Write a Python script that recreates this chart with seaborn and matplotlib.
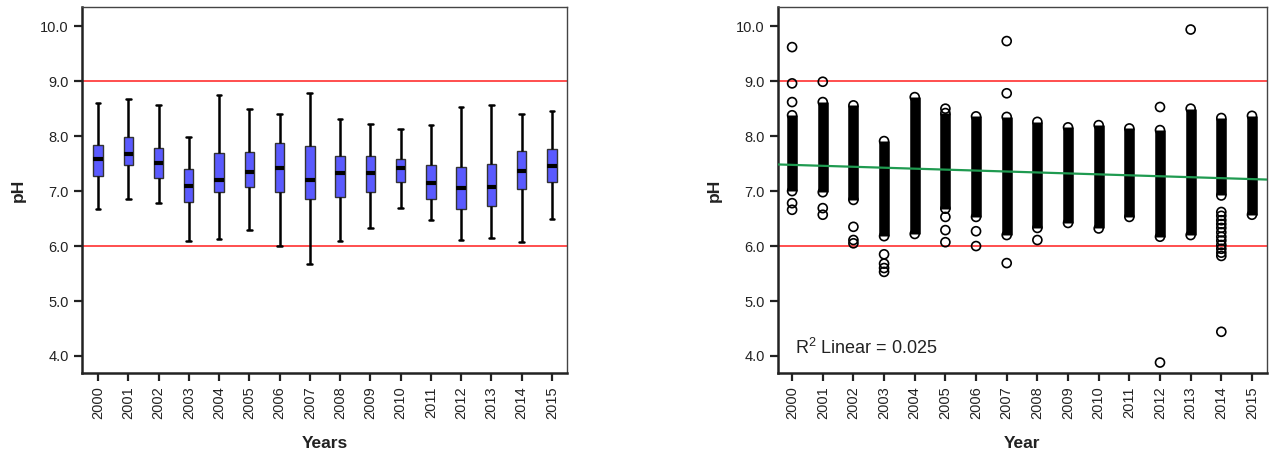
import numpy as np
import pandas as pd
import matplotlib
matplotlib.use("Agg")
import matplotlib.pyplot as plt
import seaborn as sns

# ---------------- data ----------------
years = list(range(2000, 2016))
year_labels = [str(y) for y in years]

# left panel: box summaries per year (min, Q1, median, Q3, max)
box_low  = [6.67, 6.85, 6.78, 6.10, 6.12, 6.30, 6.00, 5.67, 6.10, 6.33, 6.69, 6.47, 6.11, 6.14, 6.07, 6.50]
box_q1   = [7.28, 7.47, 7.24, 6.81, 6.98, 7.07, 6.99, 6.85, 6.90, 6.99, 7.17, 6.85, 6.67, 6.72, 7.03, 7.17]
box_med  = [7.59, 7.68, 7.51, 7.10, 7.20, 7.35, 7.42, 7.20, 7.33, 7.33, 7.42, 7.15, 7.05, 7.07, 7.36, 7.45]
box_q3   = [7.84, 7.99, 7.78, 7.41, 7.69, 7.71, 7.87, 7.82, 7.64, 7.64, 7.59, 7.47, 7.43, 7.49, 7.73, 7.76]
box_high = [8.61, 8.67, 8.56, 7.99, 8.74, 8.50, 8.41, 8.78, 8.31, 8.22, 8.13, 8.21, 8.53, 8.56, 8.40, 8.45]

# right panel: dense range of observations per year (lowest / highest of the solid column)
band_lo = [7.00, 6.98, 6.84, 6.18, 6.22, 6.68, 6.53, 6.20, 6.33, 6.42, 6.32, 6.53, 6.17, 6.20, 6.92, 6.57]
band_hi = [8.38, 8.62, 8.56, 7.91, 8.71, 8.42, 8.36, 8.35, 8.26, 8.16, 8.20, 8.14, 8.11, 8.50, 8.33, 8.37]

# right panel: separate (isolated) observations
pt_year = [2000, 2000, 2000, 2000, 2000,
           2001, 2001, 2001,
           2002, 2002, 2002,
           2003, 2003, 2003, 2003,
           2005, 2005, 2005, 2005,
           2006, 2006,
           2007, 2007, 2007,
           2008,
           2012, 2012,
           2013,
           2014, 2014, 2014, 2014, 2014, 2014, 2014, 2014, 2014, 2014, 2014, 2014, 2014]
pt_ph = [9.62, 8.96, 8.62, 6.78, 6.66,
         8.99, 6.69, 6.57,
         6.35, 6.11, 6.05,
         5.85, 5.68, 5.60, 5.53,
         8.50, 6.53, 6.29, 6.07,
         6.27, 6.00,
         9.73, 8.78, 5.69,
         6.11,
         8.53, 3.88,
         9.94,
         6.62, 6.55, 6.47, 6.40, 6.33, 6.25, 6.17, 6.10, 6.02, 5.95, 5.88, 5.82, 4.44]

# linear fit line (as read at the plot edges)
trend_year = [1999.54, 2015.49]
trend_ph = [7.485, 7.21]
r2_text = "R$^{2}$ Linear = 0.025"

limits_ph = [6.0, 9.0]
yticks = [4.0, 5.0, 6.0, 7.0, 8.0, 9.0, 10.0]

# ---------------- style ----------------
sns.set_style("ticks")
plt.rcParams["font.family"] = ["Liberation Sans", "DejaVu Sans"]
plt.rcParams["mathtext.fontset"] = "custom"
plt.rcParams["mathtext.rm"] = "Liberation Sans"
plt.rcParams["mathtext.it"] = "Liberation Sans:italic"
plt.rcParams["mathtext.bf"] = "Liberation Sans:bold"

TXT = "#222222"
BOX = "#5a5aff"
RED = "#ff3030"
GREEN = "#1f9a50"

fig = plt.figure(figsize=(12.71, 4.57), dpi=100)
axL = fig.add_axes([82 / 1271, 84 / 457, 485 / 1271, 366 / 457])
axR = fig.add_axes([778 / 1271, 84 / 457, 489 / 1271, 366 / 457])

# ---------------- left: box plots ----------------
box_df = pd.DataFrame({
    "Year": np.repeat(year_labels, 5),
    "pH": np.ravel(np.column_stack([box_low, box_q1, box_med, box_q3, box_high])),
})
sns.boxplot(data=box_df, x="Year", y="pH", order=year_labels, ax=axL,
            whis=(0, 100), width=0.31, color=BOX, saturation=1, fliersize=0,
            linecolor="#222222", linewidth=1.0,
            boxprops=dict(facecolor=BOX, edgecolor="#333333", linewidth=1.0),
            medianprops=dict(color="black", linewidth=3.0),
            whiskerprops=dict(color="black", linewidth=1.8),
            capprops=dict(color="black", linewidth=1.8))
for v in limits_ph:
    axL.axhline(v, color=RED, linewidth=1.2, zorder=0.5)
axL.set_xlim(-0.53, 15.5)

# ---------------- right: scatter ----------------
band_df = pd.DataFrame({"Year": years, "lo": band_lo, "hi": band_hi})
axR.vlines(band_df["Year"], band_df["lo"], band_df["hi"], colors="black",
           linewidth=7.6, capstyle="butt", zorder=2)
end_df = pd.DataFrame({"Year": years + years, "pH": band_lo + band_hi})
pts_df = pd.DataFrame({"Year": pt_year, "pH": pt_ph})
for d in (end_df, pts_df):
    sns.scatterplot(data=d, x="Year", y="pH", ax=axR, marker="o", s=42,
                    facecolor="none", edgecolor="black", linewidth=1.2, zorder=3,
                    legend=False)
trend_df = pd.DataFrame({"Year": trend_year, "pH": trend_ph})
sns.lineplot(data=trend_df, x="Year", y="pH", ax=axR, color=GREEN,
             linewidth=1.6, zorder=4)
for v in limits_ph:
    axR.axhline(v, color=RED, linewidth=1.2, zorder=1)
axR.set_xlim(1999.54, 2015.49)
axR.set_xticks(years)
axR.set_xticklabels(year_labels)
axR.text(0.035, 0.052, r2_text, transform=axR.transAxes, fontsize=13,
         color=TXT, ha="left", va="baseline")

# ---------------- common axes formatting ----------------
for ax, xl in ((axL, "Years"), (axR, "Year")):
    ax.set_ylim(3.69, 10.35)
    ax.set_yticks(yticks)
    ax.set_yticklabels([f"{v:.1f}" for v in yticks])
    ax.tick_params(axis="both", direction="out", length=6, width=1.6,
                   color="#222222", labelsize=10.5, labelcolor=TXT, pad=3.5)
    ax.tick_params(axis="x", labelrotation=90)
    ax.set_xlabel(xl, fontsize=12.5, fontweight="bold", color=TXT, labelpad=12)
    ax.set_ylabel("pH", fontsize=12.5, fontweight="bold", color=TXT, labelpad=10)
    for s in ("left", "bottom"):
        ax.spines[s].set_color("#222222")
        ax.spines[s].set_linewidth(1.8)
    for s in ("top", "right"):
        ax.spines[s].set_visible(True)
        ax.spines[s].set_color("#444444")
        ax.spines[s].set_linewidth(1.0)
    ax.grid(False)
    ax.set_facecolor("white")

fig.savefig("out.png", dpi=100, facecolor="white")
